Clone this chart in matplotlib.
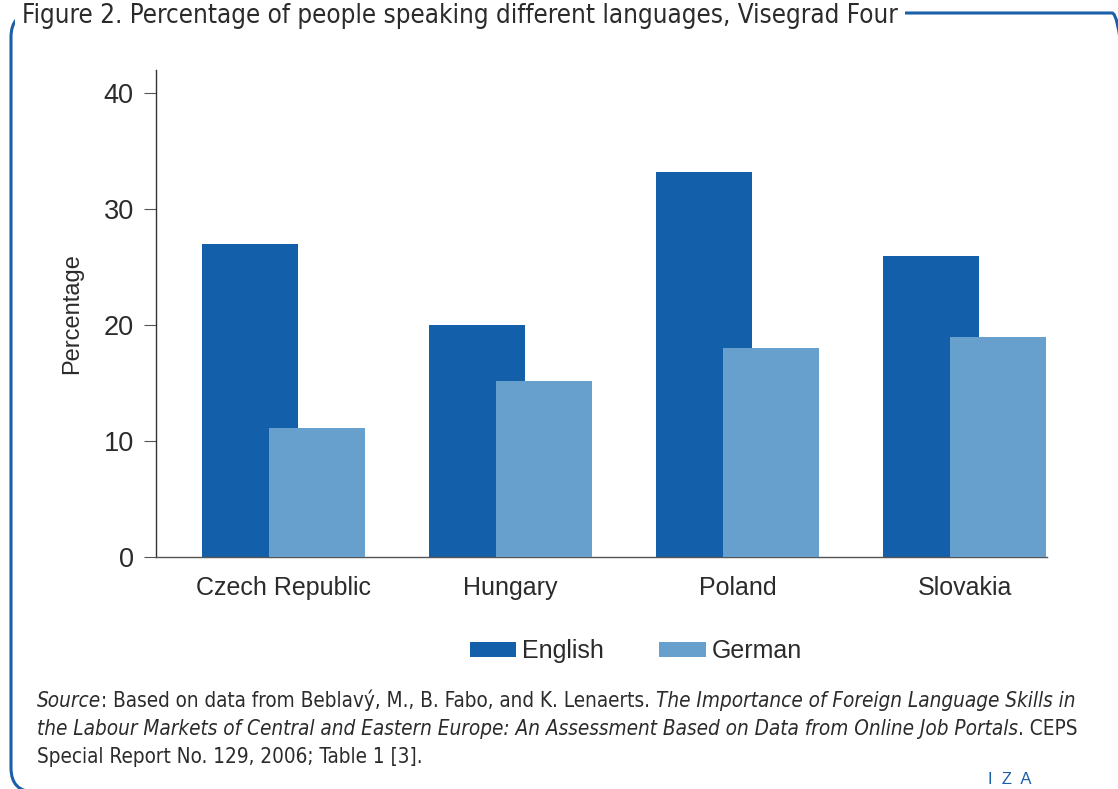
import numpy as np
import matplotlib
matplotlib.use("Agg")
import matplotlib.pyplot as plt
from matplotlib.patches import FancyBboxPatch
from matplotlib.transforms import IdentityTransform
from matplotlib import font_manager

# --- data ---
countries = ["Czech Republic", "Hungary", "Poland", "Slovakia"]
english = [27.0, 20.0, 33.2, 26.0]
german = [11.1, 15.2, 18.0, 19.0]
yticks = [0, 10, 20, 30, 40]

# --- style ---
BLUE_DARK = "#135FAA"
BLUE_LIGHT = "#679FCD"
FRAME = "#1B5FA8"
TEXT = "#2B2B2B"
MAIN = "Liberation Sans"

# look for a condensed face for title and source note
narrow = [f for f in font_manager.fontManager.ttflist
          if ("Narrow" in f.name or "Condensed" in f.name or
              f.stretch in ("condensed", "semi-condensed"))
          and f.weight in (400, "normal", "regular", "book")]
narrow_found = len(narrow) > 0
if narrow_found:
    NARROW = dict(family=narrow[0].name, stretch=narrow[0].stretch)
else:
    NARROW = dict(family="DejaVu Sans")

W, H = 1118, 789
fig = plt.figure(figsize=(W / 100, H / 100), dpi=100)

# rounded frame round the whole figure (right and bottom sides run off the picture)
frame = FancyBboxPatch((11, -3), 1125, H - 13 + 3,
                       boxstyle="round,pad=0,rounding_size=24",
                       transform=IdentityTransform(), fill=False,
                       edgecolor=FRAME, linewidth=2.2)
fig.patches.append(frame)

title_size = 18.6 if narrow_found else 16.6
fig.text(22 / W, 1 - 16 / H,
         "Figure 2. Percentage of people speaking different languages, Visegrad Four",
         fontsize=title_size, color=TEXT, ha="left", va="center",
         bbox=dict(facecolor="white", edgecolor="none", pad=5), **NARROW)

ax = fig.add_axes([156 / W, 1 - 557 / H, (1047 - 156) / W, (557 - 70) / H])
x = np.arange(len(countries))
width = 0.423
off = 0.1475
ax.bar(x - off, english, width, color=BLUE_DARK, label="English", zorder=2)
ax.bar(x + off, german, width, color=BLUE_LIGHT, label="German", zorder=3)

ax.set_xlim(-0.562, 3.363)
ax.set_ylim(0, 42)
ax.set_yticks(yticks)
ax.set_xticks(x)
ax.set_xticklabels(countries, family=MAIN, fontsize=18, color=TEXT)
ax.set_yticklabels([str(v) for v in yticks], family=MAIN, fontsize=19.5, color=TEXT)
ax.tick_params(axis="y", direction="out", length=9, width=0.8, color="#555555", pad=7)
ax.tick_params(axis="x", length=0, pad=14)
for s in ["top", "right"]:
    ax.spines[s].set_visible(False)
ax.spines["left"].set_color("#333333")
ax.spines["left"].set_linewidth(1.0)
ax.spines["bottom"].set_color("#555555")
ax.spines["bottom"].set_linewidth(1.0)
ax.set_ylabel("Percentage", family=MAIN, fontsize=17, color=TEXT, labelpad=15)

ax.legend(loc="center", bbox_to_anchor=(636 / W, 1 - 651 / H),
          bbox_transform=fig.transFigure, ncol=2, frameon=False,
          prop={"family": MAIN, "size": 18}, handlelength=1.85, handleheight=0.55,
          handletextpad=0.25, columnspacing=2.2, labelcolor=TEXT)

# source note, mixing italic and upright runs
src_size = 14.9 if narrow_found else 12.4
src_kw = dict(fontsize=src_size, color=TEXT, ha="left", va="baseline", **NARROW)
lines = [
    [("Source", "italic"), (": Based on data from Beblavý, M., B. Fabo, and K. Lenaerts. ", "normal"),
     ("The Importance of Foreign Language Skills in", "italic")],
    [("the Labour Markets of Central and Eastern Europe: An Assessment Based on Data from Online Job Portals", "italic"),
     (". CEPS", "normal")],
    [("Special Report No. 129, 2006; Table 1 [3].", "normal")],
]
fig.canvas.draw()
renderer = fig.canvas.get_renderer()
y0 = 707
for i, parts in enumerate(lines):
    xp = 37
    for txt, style in parts:
        t = fig.text(xp / W, 1 - (y0 + i * 28) / H, txt, style=style, **src_kw)
        xp += t.get_window_extent(renderer).width

fig.text(988 / W, 1 - 779 / H, "I  Z  A", family=MAIN, fontsize=12,
         color=FRAME, ha="left", va="center")

fig.savefig("out.png", dpi=100)
